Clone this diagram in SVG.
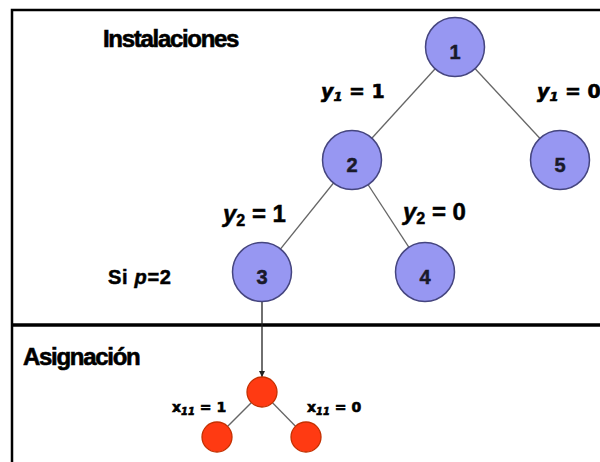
<svg xmlns="http://www.w3.org/2000/svg" width="600" height="462" viewBox="0 0 600 462">
<style>
.frame{stroke:#000;fill:none;stroke-width:2.5}
.div{stroke:#000;stroke-width:3.5}
.edge{stroke:#666;stroke-width:1.3;fill:none}
.arrow{stroke:#222;stroke-width:1.3;fill:none}
.bn{fill:#9797f2;stroke:#45457f;stroke-width:1.5}
.rn{fill:#ff3a12;stroke:#c43000;stroke-width:1.3}
.num{font-family:"Liberation Sans",Arial,sans-serif;font-weight:bold;font-size:20px;fill:#1a1a2a;text-anchor:middle;stroke:#1a1a2a;stroke-width:0.5}
.lab{font-family:"Liberation Sans",Arial,sans-serif;font-weight:bold;fill:#000;stroke:#000;stroke-width:0.5}
.dv{font-family:"DejaVu Sans",sans-serif;font-weight:bold;fill:#000;stroke:#000;stroke-width:0.6}
.hd{font-family:"Liberation Sans",Arial,sans-serif;font-weight:bold;font-size:24px;letter-spacing:-1.3px;fill:#000;stroke:#000;stroke-width:0.6}
</style>
<defs>
<marker id="ah" viewBox="0 0 10 10" refX="10" refY="5" markerWidth="6" markerHeight="6" orient="auto" markerUnits="userSpaceOnUse">
<path d="M0,0 L10,5 L0,10 z" fill="#222"/>
</marker>
</defs>
<rect width="600" height="462" fill="#fff"/>
<path class="frame" d="M12,470 L12,10 L610,10"/>
<line class="div" x1="12" y1="325" x2="600" y2="325"/>
<text class="hd" x="103" y="47">Instalaciones</text>
<text class="hd" x="23" y="365">Asignación</text>
<g id="connectors">
<line class="edge" x1="455" y1="47" x2="352" y2="160"/>
<line class="edge" x1="455" y1="47" x2="560" y2="160"/>
<line class="edge" x1="352" y1="160" x2="262" y2="272"/>
<line class="edge" x1="352" y1="160" x2="425" y2="272"/>
<line class="arrow" x1="262" y1="302" x2="262" y2="377" marker-end="url(#ah)"/>
<line class="edge" x1="262" y1="392" x2="217" y2="437"/>
<line class="edge" x1="262" y1="392" x2="306" y2="437"/>
</g>
<g id="n1"><circle class="bn" cx="455" cy="47" r="29.5"/><text class="num" x="455" y="59">1</text></g>
<g id="n2"><circle class="bn" cx="352" cy="160" r="29.5"/><text class="num" x="352" y="172">2</text></g>
<g id="n5"><circle class="bn" cx="560" cy="160" r="29.5"/><text class="num" x="560" y="172">5</text></g>
<g id="n3"><circle class="bn" cx="262" cy="272" r="29.5"/><text class="num" x="262" y="284">3</text></g>
<g id="n4"><circle class="bn" cx="425" cy="272" r="29.5"/><text class="num" x="425" y="284">4</text></g>
<g id="r1"><circle class="rn" cx="262" cy="392" r="15"/></g>
<g id="r2"><circle class="rn" cx="217" cy="437" r="15"/></g>
<g id="r3"><circle class="rn" cx="306" cy="437" r="15"/></g>
<g id="labels">
<text class="dv" x="321" y="98" font-size="19"><tspan font-style="italic">y</tspan><tspan font-style="italic" font-size="13" dy="3">1</tspan><tspan dy="-3"> = 1</tspan></text>
<text class="dv" x="537" y="98" font-size="19"><tspan font-style="italic">y</tspan><tspan font-style="italic" font-size="13" dy="3">1</tspan><tspan dy="-3"> = 0</tspan></text>
<text class="lab" x="223" y="222" font-size="24"><tspan font-style="italic">y</tspan><tspan font-size="16" dy="4">2</tspan><tspan dy="-4"> = 1</tspan></text>
<text class="lab" x="403" y="220" font-size="24"><tspan font-style="italic">y</tspan><tspan font-size="16" dy="4">2</tspan><tspan dy="-4"> = 0</tspan></text>
<text class="lab" x="108" y="284" font-size="20" letter-spacing="0.7">Si <tspan font-style="italic">p</tspan>=2</text>
<text class="dv" x="172" y="412" font-size="14"><tspan>x</tspan><tspan font-style="italic" font-size="10" dy="3">11</tspan><tspan dy="-3"> = 1</tspan></text>
<text class="dv" x="307" y="412" font-size="14"><tspan>x</tspan><tspan font-style="italic" font-size="10" dy="3">11</tspan><tspan dy="-3"> = 0</tspan></text>
</g>
</svg>
